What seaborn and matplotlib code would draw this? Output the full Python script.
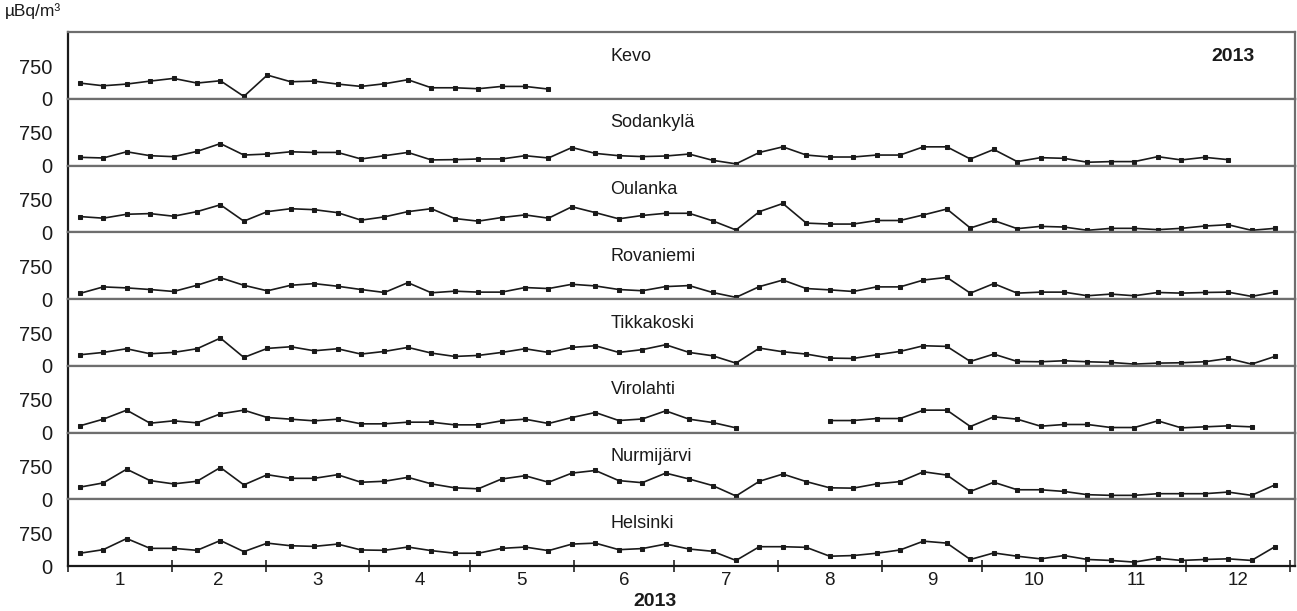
import numpy as np
import pandas as pd
import matplotlib
matplotlib.use("Agg")
import matplotlib.pyplot as plt
import seaborn as sns

stations = ["Kevo", "Sodankylä", "Oulanka", "Rovaniemi", "Tikkakoski",
            "Virolahti", "Nurmijärvi", "Helsinki"]
month_labels = ["1", "2", "3", "4", "5", "6", "7", "8", "9", "10", "11", "12"]
month_days = [31, 28, 31, 30, 31, 30, 31, 31, 30, 31, 30, 31]
year_label = "2013"
unit_label = "µBq/m³"
nan = np.nan

kevo = [360, 298, 337, 405, 467, 360, 413, 54, 543, 390, 405, 337, 283, 344, 436,
        252, 252, 230, 283, 283, 222]
sodankyla = [188, 173, 315, 225, 203, 323, 503, 240, 263, 315, 300, 300, 150, 225, 300,
             128, 135, 150, 150, 225, 173, 413, 278, 225, 205,
             218, 263, 120, 38, 300, 428, 240, 195, 195, 240, 240, 428, 428, 150, 368,
             90, 180, 165, 75, 90, 90, 203, 128, 188, 135]
oulanka = [360, 323, 413, 428, 368, 473, 630, 255, 473, 540, 518, 450, 278, 353, 473,
           540, 315, 255, 338, 398, 323, 585, 450, 308, 385,
           435, 435, 263, 53, 473, 660, 210, 188, 188, 270, 270, 398, 533, 98, 270,
           83, 135, 120, 45, 90, 90, 60, 90, 143, 173, 45, 90]
rovaniemi = [128, 278, 255, 218, 173, 315, 488, 315, 188, 315, 353, 293, 218, 150, 375,
             143, 180, 158, 158, 263, 240, 338, 300, 218, 190,
             285, 308, 150, 38, 285, 435, 240, 210, 173, 278, 278, 435, 495, 135, 353,
             135, 158, 158, 75, 113, 75, 150, 135, 150, 158, 60, 158]
tikkakoski = [252, 306, 390, 275, 306, 390, 635, 191, 398, 436, 344, 390, 268, 329, 421,
              291, 214, 237, 306, 390, 306, 421, 459, 306, 370,
              482, 306, 230, 61, 405, 321, 268, 176, 168, 252, 329, 459, 444, 99, 268,
              99, 92, 115, 92, 77, 38, 61, 69, 92, 168, 38, 214]
virolahti = [153, 306, 513, 214, 268, 222, 428, 513, 344, 306, 268, 306, 199, 199, 237,
             237, 176, 176, 268, 306, 207, 344, 459, 275, 310,
             497, 306, 230, 107, nan, nan, nan, 275, 275, 321, 321, 513, 513, 138, 360,
             306, 145, 184, 184, 115, 115, 268, 107, 130, 153, 130]
nurmijarvi = [278, 375, 690, 428, 353, 413, 728, 330, 563, 480, 480, 563, 390, 413, 503,
              353, 263, 240, 465, 540, 390, 600, 660, 428, 380,
              600, 465, 315, 75, 413, 578, 405, 263, 255, 353, 405, 630, 555, 180, 390,
              218, 218, 180, 105, 90, 90, 128, 128, 128, 165, 90, 330]
helsinki = [293, 375, 630, 405, 405, 360, 585, 330, 525, 465, 450, 503, 368, 360, 435,
            353, 293, 293, 405, 435, 353, 503, 525, 375, 400,
            503, 390, 338, 128, 443, 443, 428, 225, 240, 293, 368, 570, 525, 150, 300,
            225, 165, 240, 150, 128, 90, 180, 128, 150, 165, 128, 443]

series = [kevo, sodankyla, oulanka, rovaniemi, tikkakoski, virolahti, nurmijarvi, helsinki]

sns.set_style("white")
plt.rcParams["font.family"] = ["Liberation Sans", "DejaVu Sans"]

fig, axes = plt.subplots(len(stations), 1, figsize=(12.97, 6.11), dpi=100, sharex=True)
fig.subplots_adjust(left=0.0525, right=0.9985, top=0.9476, bottom=0.0736, hspace=0)

bounds = np.concatenate([[0], np.cumsum(month_days)])
mids = (bounds[:-1] + bounds[1:]) / 2
line_col = "#1a1a1a"
frame_col = "#6e6e6e"

for ax, name, vals in zip(axes, stations, series):
    vals = np.array(vals, dtype=float)
    week = np.arange(len(vals))
    df = pd.DataFrame({"day": 3.5 + 7 * week, "value": vals})
    df["seg"] = df["value"].isna().cumsum()
    df = df.dropna()
    for _, part in df.groupby("seg"):
        sns.lineplot(data=part, x="day", y="value", ax=ax, color=line_col,
                     linewidth=1.2, marker="s", markersize=3.4,
                     markeredgecolor=line_col, markerfacecolor=line_col)
    ax.set_ylim(0, 1530)
    ax.set_xlim(0, 366.5)
    ax.set_yticks([0, 750])
    ax.set_yticklabels(["0", "750"], fontsize=14.5, color="#1a1a1a")
    ax.set_ylabel("")
    ax.set_xlabel("")
    ax.tick_params(axis="y", direction="inout", length=5, width=1.2, color="#222222", pad=9)
    for s in ["top", "right", "bottom"]:
        ax.spines[s].set_color(frame_col)
        ax.spines[s].set_linewidth(1.6)
        ax.spines[s].set_visible(True)
    ax.spines["left"].set_color("#1a1a1a")
    ax.spines["left"].set_linewidth(1.6)
    ax.text(162, 980, name, fontsize=13, color="#1a1a1a", ha="left", va="center")

axes[0].text(348, 960, year_label, fontsize=14, fontweight="bold", color="#1a1a1a",
             ha="center", va="center")

bottom = axes[-1]
bottom.spines["bottom"].set_color("#1a1a1a")
bottom.set_xticks(bounds)
bottom.set_xticklabels([""] * len(bounds))
bottom.set_xticks(mids, minor=True)
bottom.set_xticklabels(month_labels, minor=True, fontsize=13.5, color="#1a1a1a")
bottom.tick_params(axis="x", which="major", direction="inout", length=8, width=1.2,
                   color="#222222", bottom=True)
bottom.tick_params(axis="x", which="minor", length=0, pad=4, bottom=True)
for ax in axes[:-1]:
    ax.tick_params(axis="x", which="both", bottom=False, labelbottom=False)

fig.text(0.505, 0.002, year_label, fontsize=14, fontweight="bold", ha="center", va="bottom",
         color="#1a1a1a")
fig.text(0.004, 0.995, unit_label, fontsize=12.5, ha="left", va="top", color="#1a1a1a")

fig.savefig("out.png", dpi=100, facecolor="white")
